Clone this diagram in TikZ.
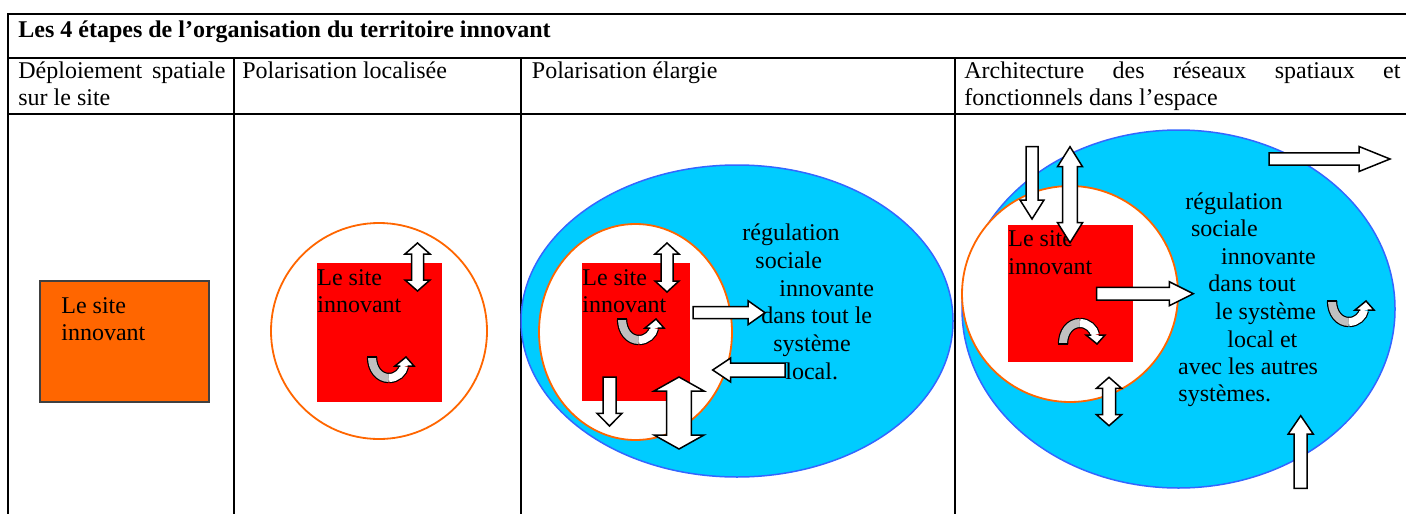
\documentclass[tikz,border=0pt]{standalone}
\usepackage{fontspec}
\setmainfont{Liberation Serif}
\definecolor{orng}{HTML}{FF6600}
\definecolor{cyn}{HTML}{00CCFF}
\definecolor{blu}{HTML}{3366FF}
\definecolor{grayarm}{HTML}{C0C0C0}
\definecolor{redsite}{HTML}{FF0000}
\tikzset{
  barrow/.style={draw=black, fill=white, line width=0.75pt, line join=miter},
  tbl/.style={line width=1pt},
  txt/.style={anchor=base west, inner sep=0pt, font=\fontsize{12}{13.8}\selectfont},
  bigell/.style={fill=cyn, draw=blu, line width=0.75pt},
  sitecirc/.style={fill=white, draw=orng, line width=0.9pt},
  siterect/.style={fill=redsite},
}
% block arrow: x y angle length shafthalf headhalf headlength
\newcommand\blockarr[7]{%
  \draw[barrow, shift={(#1,#2)}, rotate=#3] (0,-#5) -- ({#4-#7},-#5) -- ({#4-#7},-#6) -- (#4,0) -- ({#4-#7},#6) -- ({#4-#7},#5) -- (0,#5) -- cycle;}
\newcommand\dblarr[7]{%
  \draw[barrow, shift={(#1,#2)}, rotate=#3] (0,0) -- (#7,-#6) -- (#7,-#5) -- ({#4-#7},-#5) -- ({#4-#7},-#6) -- (#4,0) -- ({#4-#7},#6) -- ({#4-#7},#5) -- (#7,#5) -- (#7,#6) -- cycle;}
% u-turn arrow: x y (corner) yscale
\newcommand\uturnarr[3]{%
  \begin{scope}[shift={(#1,#2)}, yscale=#3]
    \draw[line width=0.6pt, double=grayarm, double distance=4pt] (5,0) .. controls (5,12) and (12,21) .. (22,21);
    \draw[line width=0.6pt, double=white, double distance=4pt] (22,21) .. controls (30,21) and (36,15) .. (37,9);
    \draw[line width=0.6pt] (0.4,0) -- (9.6,0);
    \fill[white] (28,9) -- (39,0) -- (47,9) -- cycle;
    \draw[line width=0.75pt, line join=miter] (33.4,9) -- (28,9) -- (39,0) -- (47,9) -- (40.6,9);
  \end{scope}}
\begin{document}
\begin{tikzpicture}[x=0.5pt, y=-0.5pt]
\useasboundingbox (0,0) rectangle (1406,514);
\fill[white] (0,0) rectangle (1406,514);

% ---- table ----
\draw[tbl] (1406,14) -- (8,14) -- (8,514);
\draw[tbl] (8,58) -- (1406,58);
\draw[tbl] (8,114) -- (1406,114);
\draw[tbl] (234,58) -- (234,514);
\draw[tbl] (521,58) -- (521,514);
\draw[tbl] (955,58) -- (955,514);

\node[txt, font=\fontsize{12}{13.8}\selectfont\bfseries] (title) at (18,37) {Les 4 étapes de l’organisation du territoire innovant};

\node[txt] (h1a) at (18,78) {\makebox[103.5pt][s]{Déploiement spatiale}};
\node[txt] (h1b) at (18,105.5) {sur le site};
\node[txt] (h2) at (242,78) {Polarisation localisée};
\node[txt] (h3) at (531.5,78) {Polarisation élargie};
\node[txt] (h4a) at (964,78) {\makebox[218pt][s]{Architecture des réseaux spatiaux et}};
\node[txt] (h4b) at (964,105.5) {fonctionnels dans l’espace};

% ---- column 1 ----
\draw[fill=orng, draw=gray!50!black, line width=0.75pt] (40,281) rectangle (209,402);
\node[txt] (s1a) at (61,313) {Le site};
\node[txt] (s1b) at (61,340.5) {innovant};

% ---- column 2 ----
\draw[sitecirc] (379,331) circle [radius=108];
\fill[siterect] (317,263) rectangle (442,402);
\node[txt] (s2a) at (317,285) {Le site};
\node[txt] (s2b) at (317,312.5) {innovant};
\dblarr{417.5}{243}{-90}{48}{6}{12.5}{11}
\uturnarr{367}{357}{1}

% ---- column 3 ----
\draw[bigell] (737,321) ellipse [x radius=216, y radius=156];
\draw[sitecirc] (635.5,332) ellipse [x radius=96.5, y radius=108];
\fill[siterect] (582,263) rectangle (690,401);
\node[txt] (s3a) at (582,285) {Le site};
\node[txt] (s3b) at (582,312.5) {innovant};
\node[txt] (r3a) at (742,240.5) {régulation};
\node[txt] (r3b) at (755,268) {sociale};
\node[txt] (r3c) at (779,296) {innovante};
\node[txt] (r3d) at (761,323.5) {dans tout le};
\node[txt] (r3e) at (773,351.5) {système};
\node[txt] (r3f) at (785,379) {local.};
\dblarr{667}{243}{-90}{49}{6}{12}{11}
\uturnarr{617}{319}{1}
\blockarr{693}{312.7}{0}{72}{6}{12}{17}
\blockarr{785}{370}{180}{72.3}{7}{12}{18}
\blockarr{609.5}{377}{-90}{49}{6.5}{12.5}{12.7}
\dblarr{679}{377}{-90}{72}{12.3}{25}{14}

% ---- column 4 ----
\draw[bigell] (1178.5,309) ellipse [x radius=216.5, y radius=179];
\draw[sitecirc] (1070,294) circle [radius=108];
\fill[siterect] (1008,225) rectangle (1132.7,362.3);
\node[txt] (s4a) at (1008,246.7) {Le site};
\node[txt] (s4b) at (1008,274) {innovant};
\node[txt] (r4a) at (1185,209) {régulation};
\node[txt] (r4b) at (1190.7,236.5) {sociale};
\node[txt] (r4c) at (1220.7,264) {innovante};
\node[txt] (r4d) at (1208,291.5) {dans tout};
\node[txt] (r4e) at (1215,319.5) {le système};
\node[txt] (r4f) at (1227,347) {local et};
\node[txt] (r4g) at (1177.7,374.5) {avec les autres};
\node[txt] (r4h) at (1178,401.5) {systèmes.};
\blockarr{1032}{146.7}{-90}{72.3}{6}{12}{19}
\dblarr{1070}{146.7}{-90}{96}{7.3}{12.5}{20}
\blockarr{1269}{159}{0}{121}{6.2}{12.5}{31}
\blockarr{1096.7}{293.7}{0}{96.6}{6.3}{12}{24}
\uturnarr{1058}{344}{-1}
\dblarr{1109}{377.3}{-90}{48.4}{6.5}{12.5}{11}
\uturnarr{1327}{301}{1}
\blockarr{1300.7}{488.3}{90}{72.6}{6.5}{12.5}{18.3}
\end{tikzpicture}
\end{document}
